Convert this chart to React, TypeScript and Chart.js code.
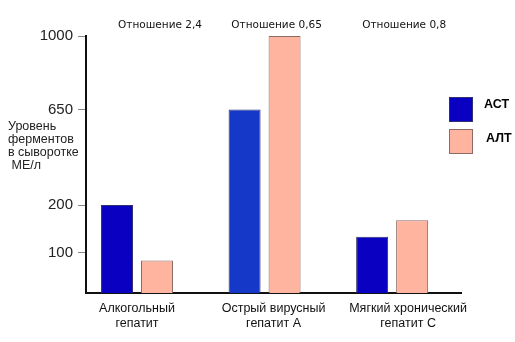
import React, { useEffect, useRef } from 'react';
import { Chart, registerables, LinearScale } from 'chart.js';

Chart.register(...registerables);

// ---- data ----
const categories: string[][] = [
  ['Алкогольный', 'гепатит'],
  ['Острый вирусный', 'гепатит А'],
  ['Мягкий хронический', 'гепатит С'],
];
const astValues = [200, 650, 133];
const altValues = [80, 1000, 168];
const ratioLabels = ['Отношение 2,4', 'Отношение 0,65', 'Отношение 0,8'];
const yTickValues = [100, 200, 650, 1000];
const yBreakValues = [0, 100, 200, 650, 1000];
const yBreakFractions = [0, 0.158, 0.342, 0.714, 1];
const yTitleLines = ['Уровень', 'ферментов', 'в сыворотке', ' МЕ/л'];
const seriesNames = ['АСТ', 'АЛТ'];

// ---- styles / layout tweaks (pixels) ----
const astColors = ['#0a00c2', '#1538c8', '#0a00c2'];
const altColor = '#ffb4a0';
const astBorder = '#30306e';
const altBorder = '#8a6c64';
const ratioShiftPx = [23, 12, 12];
const catLabelShiftPx = [0, 9, 16];

function valueToFraction(v: number): number {
  const n = yBreakValues.length;
  if (v <= yBreakValues[0]) return yBreakFractions[0];
  for (let i = 1; i < n; i++) {
    if (v <= yBreakValues[i]) {
      const t = (v - yBreakValues[i - 1]) / (yBreakValues[i] - yBreakValues[i - 1]);
      return yBreakFractions[i - 1] + t * (yBreakFractions[i] - yBreakFractions[i - 1]);
    }
  }
  const t = (v - yBreakValues[n - 2]) / (yBreakValues[n - 1] - yBreakValues[n - 2]);
  return yBreakFractions[n - 2] + t * (yBreakFractions[n - 1] - yBreakFractions[n - 2]);
}

function fractionToValue(f: number): number {
  const n = yBreakFractions.length;
  for (let i = 1; i < n; i++) {
    if (f <= yBreakFractions[i] || i === n - 1) {
      const t = (f - yBreakFractions[i - 1]) / (yBreakFractions[i] - yBreakFractions[i - 1]);
      return yBreakValues[i - 1] + t * (yBreakValues[i] - yBreakValues[i - 1]);
    }
  }
  return yBreakValues[n - 1];
}

class PiecewiseScale extends (LinearScale as any) {
  static id = 'piecewise';
  static defaults = (LinearScale as any).defaults;
  getPixelForValue(value: number) {
    return (this as any).getPixelForDecimal(valueToFraction(value));
  }
  getValueForPixel(pixel: number) {
    return fractionToValue((this as any).getDecimalForPixel(pixel));
  }
}
Chart.register(PiecewiseScale as any);

const overlayPlugin = {
  id: 'overlayTexts',
  afterDraw(chart: any) {
    const ctx = chart.ctx;
    const xs = chart.scales.x;
    ctx.save();
    // ratio labels
    ctx.font = '10.5px "DejaVu Sans"';
    ctx.fillStyle = '#111';
    ctx.textAlign = 'center';
    ctx.textBaseline = 'middle';
    ratioLabels.forEach((t, i) => {
      ctx.fillText(t, xs.getPixelForValue(i + 1) + ratioShiftPx[i], 25);
    });
    // category labels
    ctx.font = '12.5px "Liberation Sans"';
    ctx.fillStyle = '#111';
    categories.forEach((lines, i) => {
      const cx = xs.getPixelForValue(i + 1) + catLabelShiftPx[i];
      lines.forEach((line, j) => {
        ctx.fillText(line, cx, 309 + j * 15);
      });
    });
    // y title
    ctx.font = '12.5px "Liberation Sans"';
    ctx.textAlign = 'left';
    ctx.fillStyle = '#222';
    yTitleLines.forEach((t, i) => {
      ctx.fillText(t, 8, 127 + i * 13);
    });
    // legend
    const items = chart.data.datasets;
    items.forEach((ds: any, i: number) => {
      const top = 97 + i * 32;
      const fill = Array.isArray(ds.backgroundColor) ? ds.backgroundColor[0] : ds.backgroundColor;
      ctx.fillStyle = fill;
      ctx.fillRect(449, top, 24, 25);
      ctx.strokeStyle = ds.borderColor;
      ctx.lineWidth = 1;
      ctx.strokeRect(449.5, top + 0.5, 23, 24);
      ctx.fillStyle = '#000';
      ctx.font = 'bold 12.5px "Liberation Sans"';
      ctx.textAlign = 'left';
      ctx.textBaseline = 'middle';
      ctx.fillText(ds.label, 484 + i * 2, top + 8 + i * 2);
    });
    ctx.restore();
  },
};

export default function App() {
  const ref = useRef<HTMLCanvasElement | null>(null);
  useEffect(() => {
    if (!ref.current) return;
    const chart = new Chart(ref.current, {
      type: 'bar',
      data: {
        datasets: [
          {
            label: seriesNames[0],
            data: categories.map((_, i) => ({ x: i + 1, y: astValues[i] })),
            backgroundColor: astColors,
            borderColor: astBorder,
            borderWidth: 1,
            categoryPercentage: 0.627,
            barPercentage: 0.8,
          },
          {
            label: seriesNames[1],
            data: categories.map((_, i) => ({ x: i + 1, y: altValues[i] })),
            backgroundColor: altColor,
            borderColor: altBorder,
            borderWidth: 1,
            categoryPercentage: 0.627,
            barPercentage: 0.8,
          },
        ] as any,
      },
      options: {
        responsive: false,
        animation: false,
        layout: { padding: { top: 36, right: 54, left: 0, bottom: 0 } },
        plugins: { legend: { display: false }, tooltip: { enabled: false } },
        scales: {
          x: {
            type: 'linear',
            offset: false,
            min: 0.6,
            max: 3.54,
            afterBuildTicks: (s: any) => {
              s.ticks = categories.map((_, i) => ({ value: i + 1 }));
            },
            afterFit: (s: any) => {
              s.height = 49;
            },
            grid: { display: false, drawTicks: false, offset: false },
            border: { display: true, color: '#111', width: 2 },
            ticks: { display: false },
          } as any,
          y: {
            type: 'piecewise',
            min: 0,
            max: 1000,
            afterBuildTicks: (s: any) => {
              s.ticks = yTickValues.map((v) => ({ value: v }));
            },
            afterFit: (s: any) => {
              s.width = 86;
            },
            grid: { drawOnChartArea: false, drawTicks: true, tickLength: 8, color: '#888' },
            border: { display: true, color: '#111', width: 2 },
            ticks: {
              callback: (v: any) => String(v),
              font: { family: 'Liberation Sans', size: 15 },
              color: '#222',
              padding: 5,
            },
          } as any,
        },
      },
      plugins: [overlayPlugin],
    });
    return () => chart.destroy();
  }, []);
  return (
    <div style={{ position: 'fixed', left: 0, top: 0, width: 515, height: 342, background: '#fff' }}>
      <canvas ref={ref} width={515} height={342} style={{ width: 515, height: 342, display: 'block' }} />
    </div>
  );
}
